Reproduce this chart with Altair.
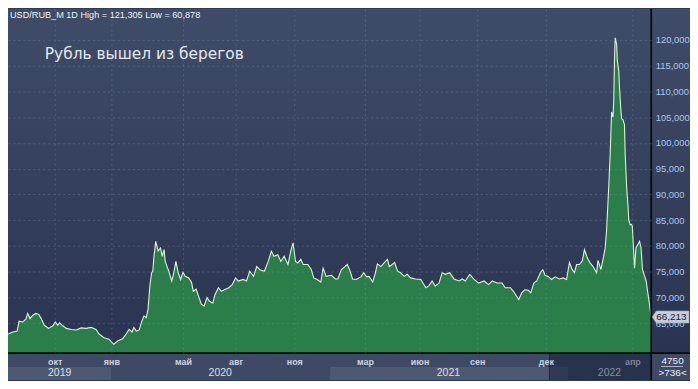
import altair as alt
import pandas as pd

# ---------------- data ----------------
dates = [
    "2019-07-17", "2019-07-25", "2019-08-01", "2019-08-04", "2019-08-10", "2019-08-15", "2019-08-18",
    "2019-08-22", "2019-08-26", "2019-08-31", "2019-09-05", "2019-09-09", "2019-09-14", "2019-09-21",
    "2019-09-28", "2019-10-02", "2019-10-06", "2019-10-09", "2019-10-14", "2019-10-20", "2019-10-28",
    "2019-11-05", "2019-11-13", "2019-11-21", "2019-11-29", "2019-12-07", "2019-12-12", "2019-12-20",
    "2019-12-28", "2020-01-05", "2020-01-12", "2020-01-20", "2020-01-26", "2020-01-31", "2020-02-05",
    "2020-02-08", "2020-02-12", "2020-02-17", "2020-02-21", "2020-02-25", "2020-02-29", "2020-03-03",
    "2020-03-06", "2020-03-09", "2020-03-11", "2020-03-13", "2020-03-16", "2020-03-20", "2020-03-24",
    "2020-03-27", "2020-03-30", "2020-04-01", "2020-04-07", "2020-04-12", "2020-04-15", "2020-04-19",
    "2020-04-23", "2020-04-27", "2020-05-01", "2020-05-05", "2020-05-11", "2020-05-16", "2020-05-19",
    "2020-05-24", "2020-05-29", "2020-06-02", "2020-06-07", "2020-06-12", "2020-06-16", "2020-06-22",
    "2020-06-26", "2020-07-02", "2020-07-07", "2020-07-14", "2020-07-20", "2020-07-26", "2020-08-01",
    "2020-08-05", "2020-08-13", "2020-08-18", "2020-08-23", "2020-08-29", "2020-09-03", "2020-09-08",
    "2020-09-15", "2020-09-21", "2020-09-26", "2020-09-30", "2020-10-06", "2020-10-11", "2020-10-16",
    "2020-10-22", "2020-10-27", "2020-10-30", "2020-11-03", "2020-11-07", "2020-11-12", "2020-11-16",
    "2020-11-24", "2020-11-30", "2020-12-04", "2020-12-10", "2020-12-16", "2020-12-20", "2020-12-25",
    "2021-01-03", "2021-01-10", "2021-01-14", "2021-01-20", "2021-01-26", "2021-01-30", "2021-02-03",
    "2021-02-08", "2021-02-14", "2021-02-22", "2021-02-27", "2021-03-04", "2021-03-08", "2021-03-14",
    "2021-03-18", "2021-03-22", "2021-03-28", "2021-04-03", "2021-04-08", "2021-04-11", "2021-04-16",
    "2021-04-20", "2021-04-25", "2021-04-30", "2021-05-06", "2021-05-11", "2021-05-17", "2021-05-25",
    "2021-06-03", "2021-06-11", "2021-06-16", "2021-06-21", "2021-06-26", "2021-07-02", "2021-07-07",
    "2021-07-12", "2021-07-19", "2021-07-26", "2021-08-03", "2021-08-08", "2021-08-13", "2021-08-20",
    "2021-08-27", "2021-09-03", "2021-09-10", "2021-09-16", "2021-09-21", "2021-09-27", "2021-10-04",
    "2021-10-08", "2021-10-15", "2021-10-19", "2021-10-26", "2021-10-30", "2021-11-03", "2021-11-08",
    "2021-11-11", "2021-11-15", "2021-11-19", "2021-11-24", "2021-11-27", "2021-11-30", "2021-12-04",
    "2021-12-09", "2021-12-14", "2021-12-20", "2021-12-25", "2021-12-30", "2022-01-03", "2022-01-07",
    "2022-01-10", "2022-01-13", "2022-01-17", "2022-01-21", "2022-01-24", "2022-01-28", "2022-02-01",
    "2022-02-05", "2022-02-10", "2022-02-12", "2022-02-16", "2022-02-19", "2022-02-22", "2022-02-24",
    "2022-02-27", "2022-03-01", "2022-03-03", "2022-03-05", "2022-03-06", "2022-03-07", "2022-03-08",
    "2022-03-10", "2022-03-11", "2022-03-13", "2022-03-14", "2022-03-16", "2022-03-17", "2022-03-19",
    "2022-03-21", "2022-03-22", "2022-03-24", "2022-03-26", "2022-03-27", "2022-03-29", "2022-03-31",
    "2022-04-01", "2022-04-04", "2022-04-06", "2022-04-11", "2022-04-13", "2022-04-15", "2022-04-20",
    "2022-04-22", "2022-04-24", "2022-04-27",
]
values = [
    62.9, 63.3, 63.5, 65.4, 65.25, 65.8, 66.9,
    65.9, 66.5, 66.9, 66.7, 65.9, 64.6, 64.0,
    64.5, 65.25, 64.6, 65.1, 64.5, 64.0, 63.8,
    63.7, 64.1, 64.0, 64.2, 63.8, 62.9, 62.2,
    61.9, 60.9, 61.6, 62.0, 62.9, 63.8, 63.3,
    64.2, 63.5, 63.7, 65.25, 66.4, 66.1, 67.8,
    72.2, 74.8, 75.1, 78.0, 80.9, 79.0, 79.6,
    78.0, 79.3, 77.0, 75.1, 73.2, 74.5, 77.0,
    74.8, 73.5, 74.9, 74.1, 73.8, 72.9, 71.2,
    71.6, 70.0, 68.7, 68.3, 70.0, 69.3, 68.9,
    70.6, 71.9, 71.2, 71.6, 71.9, 72.5, 73.8,
    73.2, 73.5, 73.2, 75.1, 74.1, 76.0, 75.4,
    75.1, 77.0, 79.0, 78.0, 78.3, 77.0, 78.0,
    76.4, 79.3, 80.6, 77.0, 76.7, 77.4, 76.4,
    76.4, 75.4, 73.8, 73.5, 73.0, 75.7, 74.1,
    74.3, 73.6, 73.6, 75.4, 76.0, 76.4, 75.4,
    73.6, 73.5, 74.0, 74.8, 74.0, 74.1, 73.0,
    74.5, 76.5, 76.0, 76.8, 77.4, 76.0, 76.4,
    76.8, 75.1, 74.8, 74.1, 74.5, 73.8, 73.6,
    73.5, 71.9, 72.3, 73.2, 72.2, 72.8, 74.8,
    74.5, 74.8, 73.6, 73.2, 73.6, 73.2, 74.5,
    73.5, 72.8, 73.2, 72.5, 73.2, 72.8, 72.8,
    71.9, 71.9, 71.2, 69.6, 70.9, 71.5, 71.4,
    70.9, 72.8, 73.2, 74.9, 75.4, 74.3, 74.1,
    73.5, 74.0, 73.6, 73.8, 73.5, 76.8, 75.4,
    74.8, 76.4, 76.4, 77.1, 79.3, 77.7, 76.7,
    76.0, 74.8, 77.2, 75.4, 77.4, 79.6, 83.1,
    91.5, 97.9, 106.0, 105.0, 108.2, 116.0, 120.4,
    119.2, 116.0, 114.0, 110.8, 106.3, 104.7, 104.5,
    103.5, 97.9, 91.5, 87.6, 85.1, 84.1, 84.2,
    83.8, 75.7, 79.6, 80.9, 79.6, 75.4, 73.2,
    71.2, 69.3, 66.213,
]

month_ticks = ["2019-10-01", "2020-01-01", "2020-05-01", "2020-08-01", "2020-11-01",
               "2021-03-01", "2021-06-01", "2021-09-01", "2021-12-01", "2022-04-01"]
month_names = ["янв", "фев", "мар", "апр", "май", "июн", "июл", "авг", "сен", "окт", "ноя", "дек"]
y_ticks = [65, 70, 75, 80, 85, 90, 95, 100, 105, 110, 115, 120]

years = ["2019", "2020", "2021", "2022"]
year_start = ["2019-07-17", "2020-01-01", "2021-01-01", "2022-01-01"]
year_end = ["2020-01-01", "2021-01-01", "2022-01-01", "2022-04-27"]
year_mid = ["2019-10-09", "2020-07-05", "2021-07-17", "2022-02-28"]

selection_start = "2021-12-06"
selection_end = "2022-04-27"

last_value = 66.213
header = "USD/RUB_M 1D High = 121,305 Low = 60,878"
title = "Рубль вышел из берегов"
corner_top = "4750"
corner_bottom = ">736<"

# ---------------- layout / scales ----------------
W, H = 647, 346
RP, BP = 39, 27
Y_MIN, Y_MAX = 59.21, 125.98

# the terminal's time axis is not calendar-linear: piecewise scale through the month gridlines
x_breaks = ["2019-07-17", "2019-10-01", "2020-01-01", "2020-05-01", "2020-08-01", "2020-11-01",
            "2021-03-01", "2021-06-01", "2021-09-01", "2021-12-01", "2022-04-01", "2022-04-27"]
x_break_px = [0, 47, 104, 176, 229, 288, 359, 414, 472, 541, 628, 647]


def ms(s):
    return int(pd.Timestamp(s, tz="UTC").timestamp() * 1000)


GRID = dict(grid=True, gridColor="#8b9bbb", gridOpacity=0.3, gridDash=[2, 3])

month_js = "[" + ",".join("'" + m + "'" for m in month_names) + "]"
x_axis = alt.Axis(
    values=[ms(s) for s in month_ticks],
    labelExpr=month_js + "[utcmonth(datum.value)]",
    title=None, ticks=False, domain=False,
    labelPadding=9, labelBaseline="middle", labelFontSize=9, labelFontWeight="bold",
    labelFont="Liberation Sans",
    labelColor={"condition": {"test": f"datum.value >= {ms(selection_start)}", "value": "#7a8498"},
                "value": "#c8d2e4"},
    labelFlush=False, labelOverlap=False, zindex=1, **GRID,
)
y_scale = alt.Scale(domain=[Y_MIN, Y_MAX], nice=False, zero=False)
y_axis = alt.Axis(
    orient="right", values=y_ticks,
    labelExpr="replace(format(datum.value, '.3f'), '.', ',')",
    title=None, ticks=False, domain=False, labelPadding=4,
    labelColor="#a9c7ef", labelFontSize=9.5, labelFont="Liberation Sans",
    labelBaseline="middle", zindex=1, **GRID,
)


def X(field, with_axis=False):
    sc = alt.Scale(type="linear", domain=[ms(s) for s in x_breaks], range=x_break_px,
                   nice=False, zero=False)
    return alt.X(field, type="quantitative", scale=sc, axis=x_axis if with_axis else None)


def Y(field):
    return alt.Y(field, type="quantitative", scale=y_scale, axis=y_axis)


def ts(name, src):
    return {name: f"time(toDate(datum['{src}']))"}


df = pd.DataFrame({"date": dates, "value": values})
years_df = pd.DataFrame({"year": years, "start": year_start, "end": year_end, "mid": year_mid})
sel_df = pd.DataFrame({"start": [selection_start], "end": [selection_end]})
one = pd.DataFrame({"k": [0]})

# ---------------- layers ----------------
bg = alt.Chart(one).mark_rect(
    color=alt.Gradient(gradient="linear", x1=0, x2=0, y1=0, y2=1,
                       stops=[alt.GradientStop(color="#3f4c67", offset=0),
                              alt.GradientStop(color="#2a3452", offset=1)])
).encode(x=alt.value(0), x2=alt.value(W + RP), y=alt.value(0), y2=alt.value(H))

strip = alt.Chart(one).mark_rect(color="#3e4a63").encode(
    x=alt.value(0), x2=alt.value(W + RP), y=alt.value(H), y2=alt.value(H + BP))

bands = alt.Chart(years_df).transform_calculate(**ts("t0", "start"), **ts("t1", "end")).mark_rect().encode(
    x=X("t0"), x2=alt.X2("t1"),
    y=alt.value(H + 14), y2=alt.value(H + BP),
    color=alt.condition("datum.year % 2 == 1", alt.value("#4d5970"), alt.value("#3e4a63")),
)

year_text = alt.Chart(years_df).transform_calculate(**ts("tm", "mid")).mark_text(
    fontSize=10.5, color="#d9e0ec", font="Liberation Sans", baseline="middle", align="center"
).encode(x=X("tm"), y=alt.value(H + 20), text="year:N")

area = alt.Chart(df).transform_calculate(**ts("t", "date")).mark_area(color="#2b7e4a", opacity=1).encode(
    x=X("t", True), y=Y("value"), y2=alt.datum(Y_MIN))

line = alt.Chart(df).transform_calculate(**ts("t", "date")).mark_line(color="#dcf5d4", strokeWidth=1.1).encode(
    x=X("t"), y=Y("value"))

overlay = alt.Chart(sel_df).transform_calculate(**ts("t0", "start"), **ts("t1", "end")).mark_rect(
    color="#050e27", opacity=0.4).encode(
    x=X("t0"), x2=alt.X2("t1"), y=alt.value(H + 1), y2=alt.value(H + BP))
overlay_edge = alt.Chart(sel_df).transform_calculate(**ts("t0", "start")).mark_rule(
    color="#1a2338", strokeWidth=1).encode(
    x=X("t0"), y=alt.value(H + 1), y2=alt.value(H + BP))

hline = alt.Chart(one).mark_rule(color="#05070c", strokeWidth=1.7).encode(
    x=alt.value(0), x2=alt.value(W + RP), y=alt.value(H))
vline = alt.Chart(one).mark_rule(color="#05070c", strokeWidth=1.7).encode(
    x=alt.value(W), y=alt.value(0), y2=alt.value(H + BP))

last_df = pd.DataFrame({"v": [last_value], "label": [f"{last_value:.3f}".replace(".", ",")]})
tag_shape = "M -1 0 L -0.78 -0.33 L 1 -0.33 L 1 0.33 L -0.78 0.33 Z"
tag = alt.Chart(last_df).mark_point(
    shape=tag_shape, filled=True, size=1369, fill="#c9cdd6", stroke="#9aa1ae",
    strokeWidth=0.6, opacity=1
).encode(x=alt.value(W + 19.5), y=Y("v"))
tag_text = alt.Chart(last_df).mark_text(
    align="left", baseline="middle", fontSize=10, color="#17203a", font="Liberation Sans"
).encode(x=alt.value(W + 5), y=Y("v"), text="label:N")

texts = pd.DataFrame({"t": [header]})
header_text = alt.Chart(texts).mark_text(
    align="left", baseline="middle", fontSize=9.2, color="#eef2f7", font="Liberation Sans"
).encode(x=alt.value(2), y=alt.value(6), text="t:N")

title_df = pd.DataFrame({"t": [title]})
title_text = alt.Chart(title_df).mark_text(
    align="left", baseline="middle", fontSize=15.5, color="#e4e8ef", font="DejaVu Sans"
).encode(x=alt.value(37), y=alt.value(45), text="t:N")

c1 = pd.DataFrame({"t": [corner_top]})
c2 = pd.DataFrame({"t": [corner_bottom]})
corner1 = alt.Chart(c1).mark_text(
    align="center", baseline="middle", fontSize=10, color="#e8eef6", font="Liberation Sans"
).encode(x=alt.value(W + 21.5), y=alt.value(H + 7.5), text="t:N")
corner2 = alt.Chart(c2).mark_text(
    align="center", baseline="middle", fontSize=10, color="#e8eef6", font="Liberation Sans"
).encode(x=alt.value(W + 21.5), y=alt.value(H + 20.5), text="t:N")
corner_rule = alt.Chart(one).mark_rule(color="#c8d0dc", strokeWidth=0.8).encode(
    x=alt.value(W + 10), x2=alt.value(W + 32), y=alt.value(H + 13.5))

chart = alt.layer(
    bg, strip, bands, year_text, area, line, overlay, overlay_edge,
    hline, vline, tag, tag_text, header_text, title_text, corner1, corner2, corner_rule,
).resolve_scale(x="independent").properties(
    width=W, height=H,
    padding={"left": 0, "top": 0, "right": RP, "bottom": BP},
    autosize=alt.AutoSizeParams(type="none"),
    background="#2f3a55",
).configure_view(stroke=None)

chart.save("out.html", embed_options={"renderer": "svg", "actions": False})
